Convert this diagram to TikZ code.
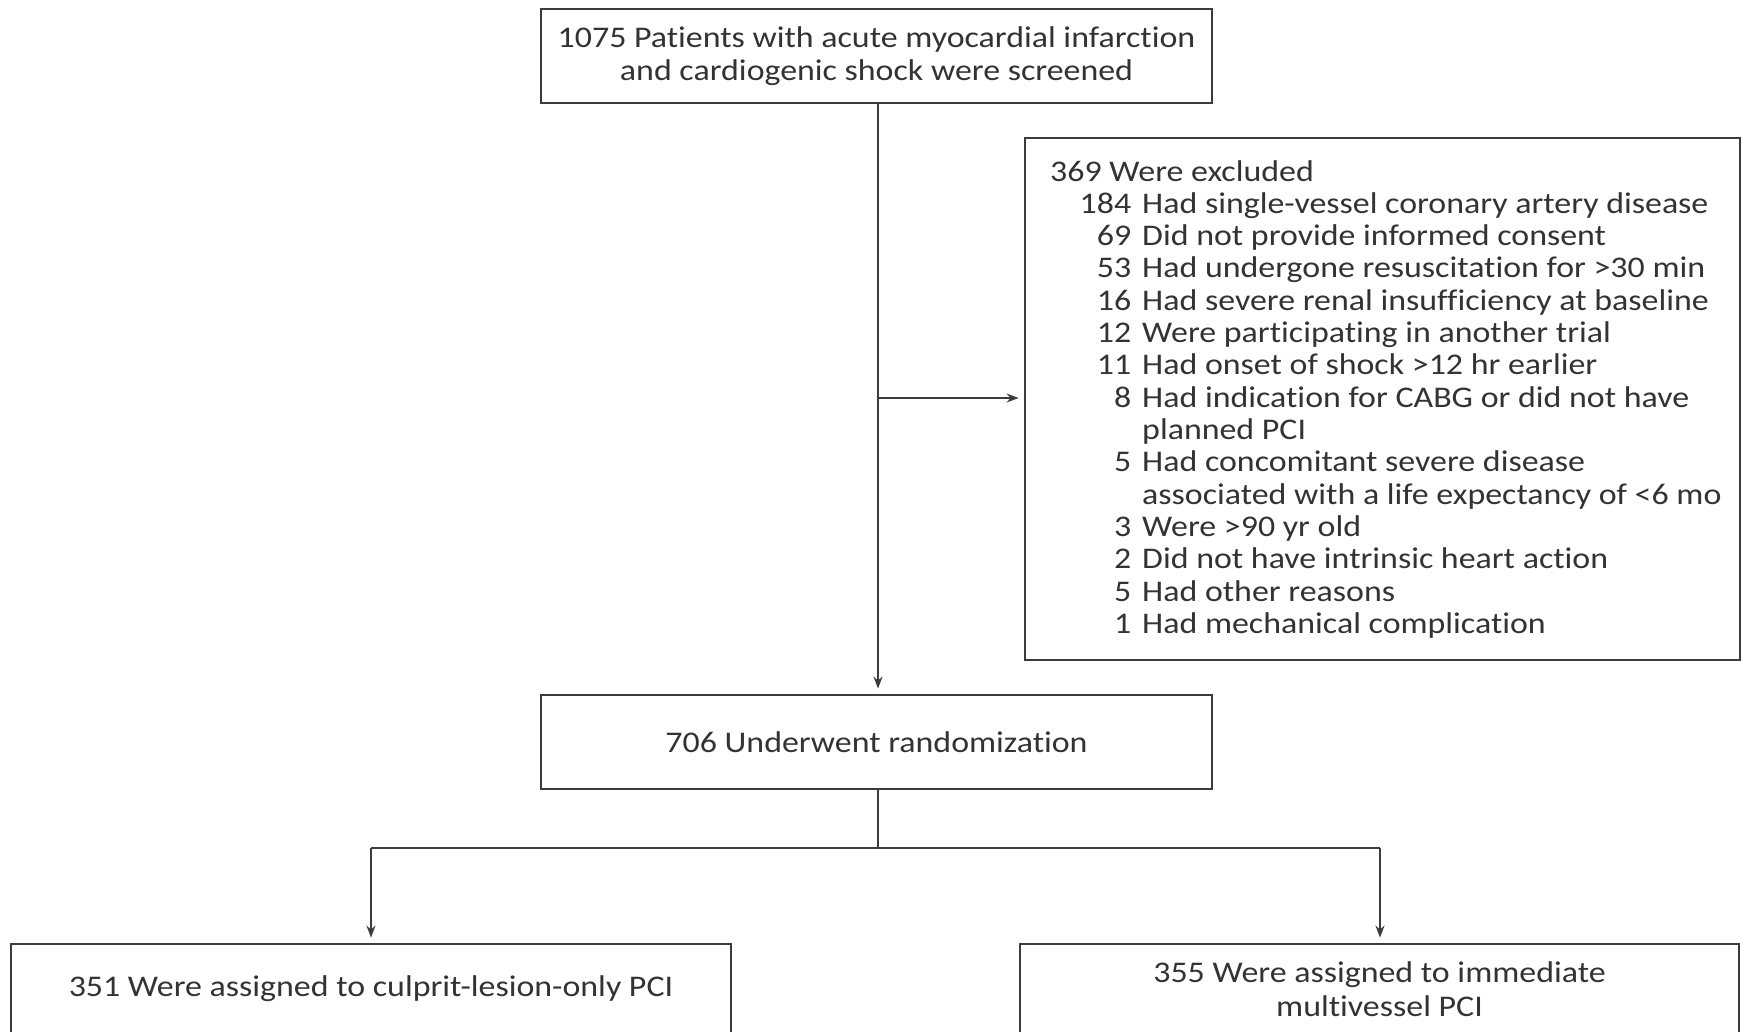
\documentclass[tikz,border=0pt]{standalone}
\usepackage{fontspec}
\usepackage{array}
\setmainfont{Carlito}[FakeStretch=1.13, RawFeature={-liga;-calt;-dlig;-clig}]
\usetikzlibrary{arrows.meta}
\definecolor{ln}{HTML}{3C3C3C}
\definecolor{tx}{HTML}{333333}
\tikzset{
  box/.style={draw=ln, line width=2.8pt, inner sep=0pt, text=tx, align=center, font=\fontsize{30}{33}\selectfont},
  conn/.style={draw=ln, line width=2.6pt},
  arr/.style={conn, -{Stealth[length=12pt,width=9pt]}, shorten >=5pt},
}
\begin{document}
\begin{tikzpicture}[x=1pt,y=-1pt]
\useasboundingbox[fill=white] (0,0) rectangle (1742,1031);
\begin{scope}
\clip (0,0) rectangle (1742,1031);
\node[box, minimum width=671pt, minimum height=94pt] (top) at (876.5,56)
  {1075 Patients with acute myocardial infarction\\and cardiogenic shock were screened};
\node[box, minimum width=715pt, minimum height=522pt] (excl) at (1382.5,399) {};
\node[box, minimum width=671pt, minimum height=94pt] (rand) at (876.5,742) {706 Underwent randomization};
\node[box, minimum width=720pt, minimum height=170pt] (left) at (371,1029) {};
\node[box, minimum width=719pt, minimum height=170pt] (right) at (1379.5,1029) {};
\end{scope}
\node[text=tx, inner sep=0pt, anchor=base west, font=\fontsize{30}{32}\selectfont] (excltext) at (1050,181)
{\renewcommand{\arraystretch}{1.01}\begin{tabular}[t]{@{}>{\raggedleft\arraybackslash}p{81pt}@{\hspace{11pt}}l@{}}
\multicolumn{2}{@{}l@{}}{369 Were excluded}\\
184 & Had single-vessel coronary artery disease\\
69 & Did not provide informed consent\\
53 & Had undergone resuscitation for >30 min\\
16 & Had severe renal insufficiency at baseline\\
12 & Were participating in another trial\\
11 & Had onset of shock >12 hr earlier\\
8 & Had indication for CABG or did not have\\
 & planned PCI\\
5 & Had concomitant severe disease\\
 & associated with a life expectancy of <6 mo\\
3 & Were >90 yr old\\
2 & Did not have intrinsic heart action\\
5 & Had other reasons\\
1 & Had mechanical complication
\end{tabular}};
\node[text=tx, inner sep=0pt, font=\fontsize{30}{33}\selectfont] (lefttext) at (371,989) {351 Were assigned to culprit-lesion-only PCI};
\node[text=tx, inner sep=0pt, align=center, font=\fontsize{30}{34}\selectfont] (righttext) at (1379.5,989) {355 Were assigned to immediate\\multivessel PCI};
\coordinate (j1) at (878,398);
\coordinate (j2) at (878,848);
\coordinate (jl) at (371,848);
\coordinate (jr) at (1380,848);
\draw[arr] (top.south -| j1) -- (rand.north -| j1);
\draw[arr] (j1) -- (excl.west |- j1);
\draw[conn] (rand.south -| j2) -- (j2);
\draw[conn] (jl) -- (jr);
\draw[arr] (jl) -- (left.north -| jl);
\draw[arr] (jr) -- (right.north -| jr);
\end{tikzpicture}
\end{document}
